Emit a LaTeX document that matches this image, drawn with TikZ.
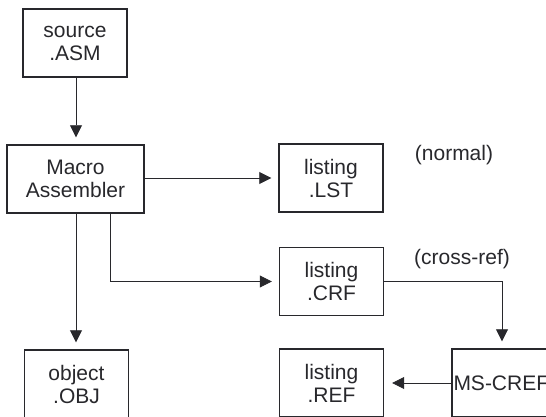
\documentclass[tikz,border=0pt]{standalone}
\usepackage{fontspec}
\setmainfont{Liberation Sans}
\usetikzlibrary{arrows.meta}
\definecolor{ink}{RGB}{40,40,44}
\begin{document}
\begin{tikzpicture}[x=1pt,y=-1pt,
  filebox/.style={draw=ink,line width=1.4pt,text=ink,minimum width=104pt,minimum height=68pt,
    align=center,inner sep=0pt,font=\fontsize{21}{23}\selectfont},
  flow/.style={draw=ink,line width=0.8pt,-{Triangle[length=12pt,width=12pt]},shorten >=7pt},
  note/.style={text=ink,font=\fontsize{21}{23}\selectfont}]
\clip (0,0) rectangle (546,417);
\fill[white] (0,0) rectangle (546,417);

% files and programs
\node[filebox] (src) at (75,43) {source\\.ASM};
\node[filebox,minimum width=137pt] (masm) at (75.5,179) {Macro\\Assembler};
\node[filebox] (lst) at (331,178) {listing\\.LST};
\node[filebox] (crf) at (331.5,281.5) {listing\\.CRF};
\node[filebox] (obj) at (76.5,384) {object\\.OBJ};
\node[filebox] (ref) at (331.5,383) {listing\\.REF};
\node[filebox,minimum width=100pt,align=left,text width=97pt] (cref) at (502,383) {MS-CREF};

% remarks
\node[note] (lnormal) at (454,155) {(normal)};
\node[note] (lcross) at (462,259) {(cross-ref)};

% data flow
\draw[flow] (src.south -| 76,0) -- (masm.north -| 76,0);
\draw[flow] (masm.east |- lst.west) -- (lst.west);
\draw[flow] (masm.south -| 110,0) |- (crf.west);
\draw[flow] (masm.south -| 76,0) -- (obj.north -| 76,0);
\draw[flow] (crf.east) -| (cref.north);
\draw[flow,shorten >=8pt] (cref.west) -- (ref.east);
\end{tikzpicture}
\end{document}
